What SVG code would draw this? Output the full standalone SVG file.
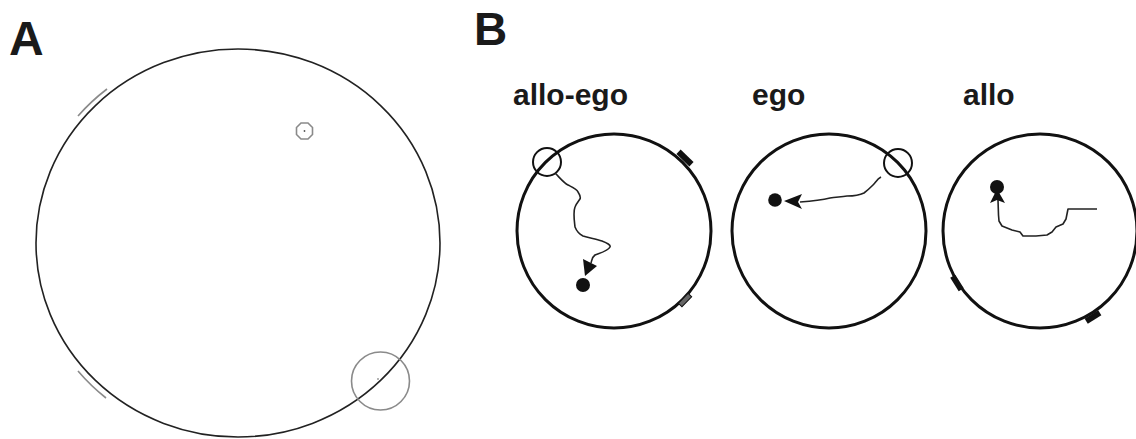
<svg xmlns="http://www.w3.org/2000/svg" width="1136" height="439" viewBox="0 0 1136 439">
<style>
.lbl{font-family:"Liberation Sans",Arial,sans-serif;font-weight:bold;fill:#1a1a1a}
.arena{fill:none;stroke:#111;stroke-width:3}
.traj{fill:none;stroke:#222;stroke-width:1.6;stroke-linejoin:round}
.start{fill:none;stroke:#111;stroke-width:2}
.gray{fill:none;stroke:#8a8a8a;stroke-width:1.6}
.mark{fill:#111}
</style>
<rect width="1136" height="439" fill="#fff"/>
<g id="panelA">
<text class="lbl" x="9" y="55" font-size="48">A</text>
<ellipse cx="238" cy="243" rx="202" ry="194" fill="none" stroke="#222" stroke-width="1.6"/>
<path class="gray" d="M78,116 A206,198 0 0 1 107,89"/>
<path class="gray" d="M106,398 A206,198 0 0 1 78,371"/>
<polygon class="gray" stroke-width="1.3" points="301,123 308,123 312.5,127.5 312.5,134.5 308,139 301,139 296.5,134.5 296.5,127.5"/>
<circle cx="304.5" cy="131" r="0.9" fill="#555"/>
<circle cx="380.5" cy="381" r="29" class="gray"/>
<circle cx="378" cy="379" r="0.8" fill="#555"/>
</g>
<text class="lbl" x="474" y="45" font-size="46">B</text>
<g id="allo-ego">
<text class="lbl" x="513" y="105" font-size="30">allo-ego</text>
<circle class="arena" cx="614" cy="231" r="97"/>
<circle class="start" cx="547" cy="162" r="14"/>
<rect class="mark" x="676" y="155" width="18" height="6" transform="rotate(44 685 158)"/>
<rect x="678" y="297.5" width="14" height="5" fill="#666" stroke="#111" stroke-width="1" transform="rotate(-46 685 300)"/>
</g>
<g id="ego">
<text class="lbl" x="752" y="105" font-size="30">ego</text>
<circle class="arena" cx="829" cy="231" r="97"/>
<circle class="start" cx="898" cy="163" r="14"/>
</g>
<g id="allo">
<text class="lbl" x="963" y="105" font-size="30">allo</text>
<circle class="arena" cx="1040" cy="231" r="97"/>
<rect class="mark" x="949" y="280" width="16" height="6" transform="rotate(58 957 283)"/>
<rect class="mark" x="1085" y="314" width="16" height="6" transform="rotate(-32 1093 317)"/>
</g>
<g id="connectors">
<path class="traj" d="M555,173 C560,178 564,183 568,185 C572,187 577,189 578,192 C580,195 581,197 580,199 C578,202 576,204 575,207 C573,212 574,218 575,227 C577,232 579,234 583,236 C590,238 596,239 602,241 C607,243 611,245 610,247 C608,251 600,253 595,255 C592,257 592,260 591,263"/>
<polygon class="mark" points="583,259 597,266 585,276"/>
<circle class="mark" cx="583" cy="285" r="7"/>
<path class="traj" d="M881,177 C877,179 876,182 873,185 C870,188 868,190 864,193 C858,196 852,196 847,196 C840,197 835,197 830,198 C822,200 814,201 800,202"/>
<polygon class="mark" points="784,201 802,194 798,202 802,209"/>
<circle class="mark" cx="775" cy="200" r="6.8"/>
<path class="traj" d="M998,200 L998.5,215 L999,221 L1002,226 L1012,230 L1020,232 L1023,236 L1036,236 L1047,235 L1052,232 L1056,227 L1063,224 L1066,219 L1067,214 L1068,209 L1097,209"/>
<polygon class="mark" points="997,189 990,203 997,200 1005,203"/>
<circle class="mark" cx="997" cy="187" r="7"/>
</g>
</svg>
